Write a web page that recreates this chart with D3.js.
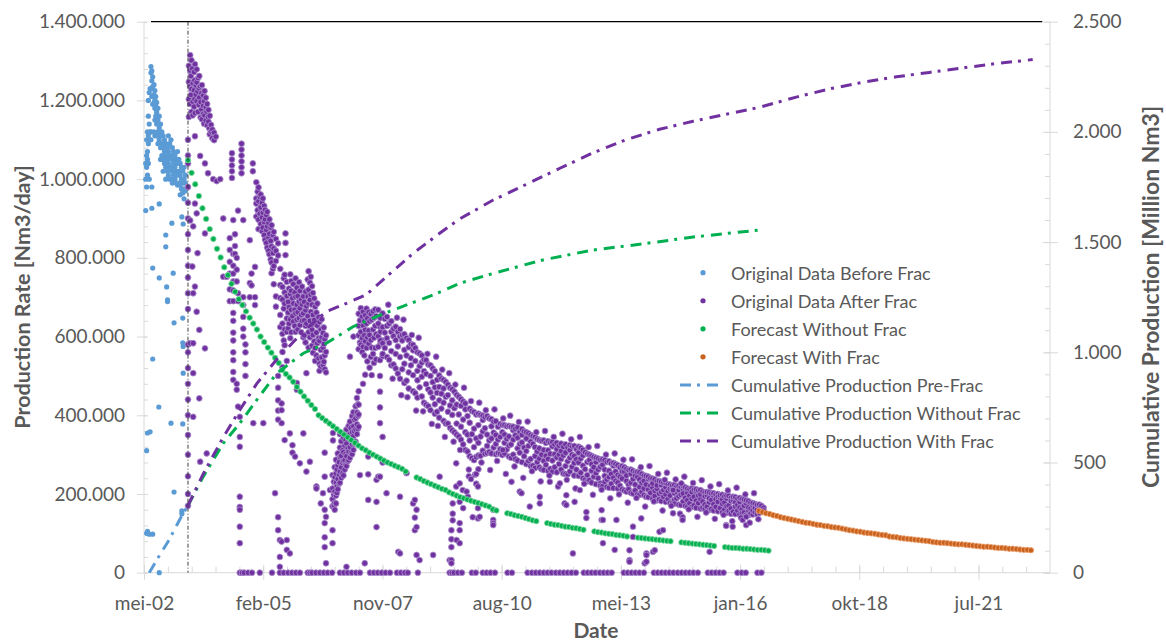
<!DOCTYPE html>
<html>
<head>
<meta charset="utf-8">
<script src="https://cdn.jsdelivr.net/npm/d3@7"></script>
<style>
  body { margin: 0; background: #fff; }
  text { font-family: Lato, "Open Sans", sans-serif; }
</style>
</head>
<body>
<svg id="chart" width="1166" height="644"></svg>
<script>
// dates are decimal years, rates in 1000 Nm3/day, cumulative in million Nm3
const xStart = 2002.37;
const xTickLabels = ["mei-02", "feb-05", "nov-07", "aug-10", "mei-13", "jan-16", "okt-18", "jul-21"];
const leftTicks = [0, 200, 400, 600, 800, 1000, 1200, 1400];
const rightTicks = [0, 500, 1000, 1500, 2000, 2500];
const fracDate = 2003.38;

const seriesNames = ["Original Data Before Frac", "Original Data After Frac", "Forecast Without Frac",
  "Forecast With Frac", "Cumulative Production Pre-Frac", "Cumulative Production Without Frac",
  "Cumulative Production With Frac"];

// [date, readings...]
const beforeFrac = [
  [2002.41, 1040, 1000, 920], [2002.43, 1100, 1060, 1030, 980, 310, 100],
  [2002.45, 1120, 1070, 1050, 1010, 355, 105], [2002.47, 1200, 1160, 1110, 1090, 1040],
  [2002.49, 1220, 1140, 1100, 1000, 98], [2002.51, 1230, 1120, 358],
  [2002.53, 1286, 1270, 1120, 1100], [2002.55, 1275, 1250, 1230, 1210, 980, 926],
  [2002.57, 1260, 1235, 1210, 1190, 774, 543, 98], [2002.60, 1240, 1215, 1195, 1120],
  [2002.62, 1225, 1200, 1180, 1150, 1110], [2002.64, 1210, 1185, 1160, 1115],
  [2002.66, 1195, 1170, 1140, 1110], [2002.69, 1180, 1150, 1120, 1090], [2002.71, 421],
  [2002.72, 1160, 1130, 1100, 937, 749, 0], [2002.75, 1140, 1110, 1080, 1050],
  [2002.78, 1120, 1090, 1060], [2002.81, 1110, 1080, 1050, 1020], [2002.84, 1100, 1070, 1040],
  [2002.87, 1090, 1060, 1030, 1000, 858, 828], [2002.89, 726], [2002.91, 1080, 1050, 1020, 693, 689],
  [2002.93, 1110, 1070, 1040, 1010], [2002.96, 1090, 1060, 1030, 1000],
  [2002.99, 1100, 1060, 1030, 1000, 380], [2003.01, 888], [2003.02, 1080, 1050, 1020, 990],
  [2003.04, 761], [2003.05, 1070, 1040, 1010], [2003.06, 635, 205], [2003.08, 1060, 1030, 1000],
  [2003.11, 1050, 1020, 990], [2003.14, 1070, 1040, 1010, 985], [2003.17, 1050, 1020, 990],
  [2003.20, 1040, 1010, 985, 960], [2003.23, 1030, 1000, 975], [2003.24, 904, 157, 150],
  [2003.26, 1020, 990, 965, 647, 584, 378], [2003.27, 886, 575, 507],
  [2003.29, 1030, 1000, 975, 950], [2003.32, 1010, 990, 970]
];

const afterFracEarly = [
  [2003.38, 1100, 1060, 1040, 980, 940, 900, 860, 820, 780, 750, 710, 670, 580, 560, 520, 480, 440, 400, 350, 300, 245, 200, 170],
  [2003.40, 1288, 1247, 1203, 1158], [2003.43, 1315, 1276, 1236, 1191, 895, 583],
  [2003.45, 1262, 1214], [2003.46, 1302, 1229, 1171], [2003.48, 1281, 778], [2003.49, 1244, 1197, 1162],
  [2003.50, 880, 710, 583, 507, 396], [2003.52, 1272, 1226, 1184], [2003.53, 1251, 1203],
  [2003.54, 1292, 1168, 1109, 938, 727], [2003.56, 1238, 1215], [2003.58, 1279, 1246, 1198, 913, 663],
  [2003.60, 1223, 812], [2003.61, 1257, 1171], [2003.63, 1231, 1189], [2003.64, 1262, 1207, 617, 443],
  [2003.66, 1236, 1059, 282], [2003.67, 1196, 1157], [2003.69, 1218, 1177], [2003.70, 1239, 1152],
  [2003.73, 1213, 1186, 1166], [2003.75, 1198, 1141], [2003.76, 1224, 1162], [2003.77, 1040, 862, 570],
  [2003.79, 1207, 1183, 1149], [2003.81, 1172, 303], [2003.82, 1191, 1137], [2003.84, 1158, 1015],
  [2003.85, 1176, 1146], [2003.87, 1129], [2003.88, 1161, 1114], [2003.91, 1138, 1121], [2003.94, 1126, 1104],
  [2003.96, 1000], [2003.98, 1118, 1099], [2004.02, 1108], [2004.04, 995], [2004.12, 1000]
];

const afterFrac2004 = [
  [2004.19, 900, 752], [2004.27, 752], [2004.34, 850, 820, 790, 760, 720, 690],
  [2004.39, 1066, 1050, 1035, 1020, 1003],
  [2004.42, 896, 810, 780, 760, 740, 717, 690, 660, 640, 610, 590, 560, 540, 510, 490],
  [2004.46, 860, 830, 810], [2004.50, 800, 770, 740, 480, 465], [2004.53, 920, 710, 690, 422],
  [2004.57, 396, 345, 320, 193, 167, 160, 117, 75], [2004.61, 1090, 1075, 1060, 1045, 1030, 1015],
  [2004.65, 896, 700, 680, 650, 620, 600], [2004.70, 580, 560, 530, 500],
  [2004.80, 845, 736, 700], [2004.84, 760, 730], [2004.87, 1040, 1020], [2004.88, 380],
  [2004.92, 777, 700, 680], [2004.95, 992, 951, 938, 905], [2004.98, 968, 921],
  [2005.00, 979, 944, 897, 873], [2005.03, 955, 912], [2005.05, 961, 928, 886],
  [2005.08, 940, 903, 868], [2005.10, 951, 915, 877], [2005.11, 380], [2005.13, 932, 891, 858],
  [2005.15, 922, 898, 846], [2005.18, 909, 871, 838], [2005.20, 917, 880, 826],
  [2005.23, 889, 852, 818], [2005.25, 898, 861, 809], [2005.28, 877, 843, 796],
  [2005.30, 883, 829, 788, 761], [2005.33, 858, 812, 772], [2005.35, 866, 824, 779, 733],
  [2005.38, 202], [2005.40, 848, 818, 792, 702, 676],
  [2005.45, 837, 806, 500, 470, 438, 412, 389, 141, 108], [2005.49, 83, 40, 15]
];

const afterFracHump = [
  [2005.50, 772, 731, 698, 655, 624], [2005.53, 430, 413, 380, 79],
  [2005.55, 726, 694, 633, 607, 561, 522], [2005.58, 748, 671, 590],
  [2005.60, 757, 712, 684, 618, 578, 337], [2005.62, 862, 838, 807],
  [2005.65, 739, 703, 646, 612, 538, 83, 58], [2005.68, 688, 661, 621], [2005.70, 722, 675, 633],
  [2005.72, 354, 49], [2005.73, 758, 708, 644, 596], [2005.75, 741, 716, 668, 611],
  [2005.78, 697, 652, 324, 305], [2005.80, 733, 684, 638], [2005.83, 712, 668, 627],
  [2005.84, 295], [2005.85, 748, 701, 659, 612], [2005.88, 724, 681, 643, 482, 465],
  [2005.90, 703, 662, 618], [2005.93, 738, 689, 647], [2005.95, 716, 672, 629, 278],
  [2005.98, 694, 655, 611], [2006.00, 727, 682, 640], [2006.03, 702, 659, 598, 354],
  [2006.05, 688, 641, 603], [2006.08, 714, 667, 627, 585], [2006.10, 677, 633, 507, 257],
  [2006.13, 745, 702, 652], [2006.15, 766, 719, 684, 611, 572], [2006.18, 737, 693, 640, 598, 282],
  [2006.20, 752, 707, 663, 626], [2006.23, 728, 681, 617, 577], [2006.25, 711, 655, 604, 559],
  [2006.28, 697, 642, 588], [2006.30, 676, 633, 571, 538], [2006.33, 661, 610, 552, 219, 214],
  [2006.35, 684, 628, 583], [2006.38, 649, 596, 545], [2006.40, 637, 589, 531, 513],
  [2006.43, 618, 566, 524, 176], [2006.45, 644, 598, 547], [2006.48, 609, 572, 528, 202],
  [2006.50, 623, 581, 536], [2006.52, 594, 552, 517, 305, 244, 160, 126, 90, 65],
  [2006.55, 603, 561, 509, 142, 24], [2006.64, 210]
];

const afterFracDip = [
  [2006.70, 248, 214, 187, 169, 108, 75], [2006.71, 355, 336], [2006.73, 231, 198, 172],
  [2006.75, 268, 243, 206, 178, 160], [2006.78, 287, 252, 229, 196, 176], [2006.80, 262, 219, 203],
  [2006.82, 303, 273, 238, 212], [2006.85, 281, 249, 226], [2006.87, 352, 318, 294, 257, 229],
  [2006.90, 334, 297, 268, 241], [2006.93, 311, 279, 253], [2006.95, 343, 306, 284, 247],
  [2006.98, 353, 323, 286, 262], [2007.00, 337, 301, 274], [2007.02, 364, 328, 296, 271, 15],
  [2007.05, 349, 316, 283], [2007.07, 373, 341, 307, 286], [2007.10, 549, 384, 352, 319, 292],
  [2007.12, 368, 337, 304], [2007.15, 398, 357, 326, 301], [2007.18, 600, 408, 372, 347, 312],
  [2007.20, 389, 359, 328], [2007.23, 423, 392, 364, 333], [2007.26, 444, 407, 377, 352],
  [2007.28, 428, 398, 366], [2007.30, 658, 627, 603, 568, 461, 427, 402, 371], [2007.33, 641, 585, 248],
  [2007.35, 672, 612, 579], [2007.38, 651, 596, 561], [2007.40, 663, 628, 574, 480],
  [2007.43, 639, 603, 552], [2007.44, 24], [2007.45, 654, 617, 588, 503], [2007.48, 671, 633, 571],
  [2007.50, 646, 598, 537], [2007.52, 295, 250, 185], [2007.53, 662, 615, 582],
  [2007.55, 639, 604, 521], [2007.58, 657, 591, 548], [2007.60, 643, 572, 502],
  [2007.63, 664, 618, 556], [2007.65, 648, 597, 533], [2007.68, 669, 627, 571],
  [2007.70, 652, 606, 542], [2007.71, 236, 180, 116], [2007.75, 244],
  [2007.79, 625, 580, 540, 500, 460, 420, 380, 244], [2007.85, 590, 550, 345, 280], [2007.94, 202]
];

const afterFracBand = [
  [2007.75, 601, 668, 574, 633], [2007.80, 647, 590, 612], [2007.85, 556, 624, 659, 583],
  [2007.90, 610, 571, 645], [2007.95, 650, 548, 596, 627], [2008.00, 584, 633, 541],
  [2008.05, 563, 612, 639, 527], [2008.10, 601, 529, 620], [2008.15, 625, 556, 519, 591],
  [2008.20, 575, 612, 506], [2008.25, 548, 601, 493, 619], [2008.30, 590, 517, 604],
  [2008.35, 606, 531, 566, 482], [2008.40, 552, 488, 596], [2008.45, 509, 591, 573, 468],
  [2008.50, 581, 527, 545], [2008.55, 461, 565, 502, 579], [2008.60, 538, 571, 456],
  [2008.65, 513, 560, 445, 489], [2008.70, 557, 471, 525], [2008.75, 448, 534, 552, 498],
  [2008.80, 512, 432, 541], [2008.85, 540, 479, 427, 505], [2008.90, 466, 529, 423],
  [2008.95, 500, 413, 527, 458], [2009.00, 519, 445, 484], [2009.05, 428, 512, 471, 404],
  [2009.10, 490, 409, 457], [2009.15, 501, 438, 472, 394], [2009.20, 417, 493, 455],
  [2009.25, 468, 386, 490, 432], [2009.30, 447, 485, 379], [2009.35, 409, 478, 379, 451],
  [2009.40, 470, 425, 368], [2009.45, 362, 438, 466, 401], [2009.50, 418, 357, 460],
  [2009.55, 452, 379, 427, 351], [2009.60, 346, 402, 447], [2009.65, 424, 338, 441, 371],
  [2009.70, 389, 435, 326], [2009.75, 312, 415, 357, 430], [2009.80, 398, 308, 351],
  [2009.85, 417, 336, 296, 381], [2009.90, 352, 411, 291], [2009.95, 408, 319, 366, 286],
  [2010.00, 294, 402, 341], [2010.05, 375, 298, 404, 330], [2010.10, 401, 346, 297],
  [2010.15, 310, 388, 359, 399], [2010.20, 367, 302, 395], [2010.25, 398, 322, 351, 304],
  [2010.30, 336, 392, 307], [2010.35, 303, 372, 390, 341], [2010.40, 384, 318, 356],
  [2010.45, 350, 301, 385, 327], [2010.50, 371, 338, 304], [2010.55, 314, 378, 345, 302],
  [2010.60, 357, 299, 375], [2010.65, 375, 330, 303, 351], [2010.70, 313, 372, 340],
  [2010.75, 346, 295, 373, 323], [2010.80, 371, 326, 292], [2010.85, 300, 362, 338, 371],
  [2010.90, 349, 289, 366], [2010.95, 369, 316, 285, 343], [2011.00, 305, 358, 327],
  [2011.05, 365, 331, 281, 350], [2011.10, 296, 359, 318], [2011.15, 341, 276, 357, 309],
  [2011.20, 354, 322, 284], [2011.25, 289, 350, 333, 271], [2011.30, 327, 347, 272],
  [2011.35, 345, 296, 266, 319], [2011.40, 308, 340, 281], [2011.45, 268, 337, 316, 290],
  [2011.50, 335, 300, 263], [2011.55, 312, 261, 336, 284], [2011.60, 274, 330, 297],
  [2011.65, 334, 289, 259, 311], [2011.70, 302, 331, 264], [2011.75, 257, 321, 285, 332],
  [2011.80, 326, 268, 301], [2011.85, 293, 330, 255, 314], [2011.90, 276, 323, 300],
  [2011.95, 328, 262, 309, 289], [2012.00, 298, 252, 320], [2012.05, 271, 326, 305, 251],
  [2012.10, 318, 283, 250], [2012.15, 257, 312, 324, 292], [2012.20, 321, 269, 300],
  [2012.25, 296, 247, 322, 279], [2012.30, 314, 262, 288], [2012.35, 246, 305, 280, 320],
  [2012.40, 317, 254, 290], [2012.45, 272, 312, 240, 298], [2012.50, 306, 263, 236],
  [2012.55, 248, 302, 281, 232], [2012.60, 286, 235, 300], [2012.65, 297, 259, 229, 276],
  [2012.70, 244, 294, 268], [2012.75, 281, 225, 292, 253], [2012.80, 290, 240, 262],
  [2012.85, 227, 287, 269, 221], [2012.90, 274, 220, 288], [2012.95, 286, 246, 231, 262],
  [2013.00, 237, 281, 218], [2013.05, 283, 259, 216, 243], [2013.10, 251, 278, 226],
  [2013.15, 215, 272, 241, 279], [2013.20, 276, 233, 257], [2013.25, 248, 214, 273, 229],
  [2013.30, 268, 221, 244], [2013.35, 212, 271, 239, 257], [2013.40, 257, 209, 268],
  [2013.45, 264, 233, 206, 247], [2013.50, 224, 261, 212], [2013.55, 251, 203, 262, 229],
  [2013.60, 259, 238, 201], [2013.65, 209, 255, 224, 246], [2013.70, 243, 199, 256],
  [2013.75, 255, 218, 237, 198], [2013.80, 205, 251, 229], [2013.85, 247, 197, 233, 214],
  [2013.90, 224, 246, 193], [2013.95, 192, 238, 211, 244], [2014.00, 240, 203, 221],
  [2014.05, 216, 188, 239, 227], [2014.10, 195, 237, 208], [2014.15, 232, 213, 184, 222],
  [2014.20, 201, 233, 186], [2014.25, 223, 182, 231, 205], [2014.30, 210, 229, 193],
  [2014.35, 180, 217, 228, 199], [2014.40, 225, 187, 207], [2014.45, 196, 224, 178, 213],
  [2014.50, 214, 177, 222], [2014.55, 223, 202, 185, 175], [2014.60, 189, 219, 206],
  [2014.65, 210, 173, 221, 194], [2014.70, 218, 198, 172], [2014.75, 181, 213, 220, 201],
  [2014.80, 217, 190, 170], [2014.85, 203, 168, 214, 184], [2014.90, 176, 212, 196],
  [2014.95, 214, 188, 167, 205], [2015.00, 193, 211, 171], [2015.05, 165, 207, 183, 212],
  [2015.10, 209, 177, 196], [2015.15, 187, 163, 210, 199], [2015.20, 206, 181, 165],
  [2015.25, 173, 204, 194, 161], [2015.30, 197, 168, 205], [2015.35, 204, 179, 159, 189],
  [2015.40, 185, 201, 162], [2015.45, 158, 196, 174, 202], [2015.50, 199, 167, 187],
  [2015.55, 180, 156, 200, 193], [2015.60, 191, 164, 197], [2015.65, 198, 175, 154, 186],
  [2015.70, 160, 194, 178], [2015.75, 189, 152, 196, 169], [2015.80, 195, 171, 157],
  [2015.85, 163, 190, 182, 150], [2015.90, 184, 155, 193], [2015.95, 192, 168, 149, 179],
  [2016.00, 158, 188, 172], [2016.05, 180, 148, 190, 165], [2016.10, 187, 161, 151],
  [2016.15, 153, 183, 170, 186], [2016.20, 176, 147, 184], [2016.25, 182, 159, 166, 146],
  [2016.30, 150, 178, 163], [2016.35, 171, 177, 148, 158], [2016.40, 175, 154, 164],
  [2016.45, 149, 172, 160], [2016.50, 168, 152, 173], [2016.55, 157, 170], [2016.60, 165, 158]
];

// readings just outside the main band
const afterFracNearBand = [
  [2007.98, 681], [2008.08, 493], [2008.18, 648], [2008.28, 451], [2008.33, 643], [2008.42, 446],
  [2008.52, 604], [2008.62, 412], [2008.68, 597], [2008.78, 410], [2008.88, 556], [2008.98, 378],
  [2009.08, 549], [2009.12, 373], [2009.22, 516], [2009.28, 345], [2009.38, 507], [2009.48, 333],
  [2009.52, 478], [2009.63, 312], [2009.72, 470], [2009.83, 262, 245], [2009.88, 436, 238],
  [2009.97, 249], [2010.00, 251, 226], [2010.05, 263], [2010.07, 432], [2010.12, 280],
  [2010.22, 413], [2010.32, 261], [2010.42, 415], [2010.48, 284], [2010.62, 392], [2010.68, 251],
  [2010.78, 399], [2010.88, 270], [2010.98, 383], [2011.08, 241], [2011.18, 384], [2011.28, 258],
  [2011.38, 357], [2011.48, 232], [2011.58, 360], [2011.68, 247], [2011.78, 345], [2011.88, 219],
  [2011.98, 353], [2012.08, 236], [2012.18, 339], [2012.28, 214], [2012.38, 345], [2012.48, 226],
  [2012.58, 319], [2012.68, 198], [2012.78, 322], [2012.88, 211], [2012.98, 300], [2013.08, 189],
  [2013.18, 303], [2013.28, 199], [2013.38, 287], [2013.48, 178], [2013.58, 288], [2013.68, 190],
  [2013.78, 268], [2013.88, 168], [2013.98, 271], [2014.08, 181], [2014.18, 251], [2014.28, 158],
  [2014.38, 254], [2014.48, 170], [2014.58, 237], [2014.68, 150], [2014.78, 244], [2014.88, 161],
  [2014.98, 228], [2015.08, 142], [2015.18, 235], [2015.28, 153], [2015.38, 219], [2015.48, 137],
  [2015.58, 225], [2015.68, 147], [2015.78, 209], [2015.88, 131], [2015.98, 216], [2016.08, 140],
  [2016.18, 199], [2016.38, 202], [2016.48, 136]
];

const afterFracLow = [
  [2008.21, 53], [2008.25, 193, 49], [2008.40, 253], [2008.55, 176], [2008.59, 185, 140, 108],
  [2008.63, 160, 116, 45], [2008.70, 32], [2009.01, 45], [2009.16, 244], [2009.39, 32],
  [2009.43, 108, 85, 65, 32, 24], [2009.46, 176, 150, 133], [2009.54, 278, 219], [2009.55, 83],
  [2009.62, 227, 180, 126, 108, 75], [2009.69, 210], [2009.70, 164], [2009.78, 206], [2009.81, 193],
  [2009.92, 141], [2010.04, 219, 164, 138], [2010.08, 142], [2010.39, 160, 134, 126, 121],
  [2010.61, 312], [2010.81, 231], [2011.00, 206], [2011.04, 202], [2011.23, 168], [2011.46, 193, 176],
  [2011.69, 231], [2011.92, 227], [2012.03, 176], [2012.07, 197, 172], [2012.22, 49], [2012.26, 180],
  [2012.38, 210], [2012.53, 154, 139], [2012.88, 159, 134], [2012.91, 134, 75], [2013.18, 58],
  [2013.22, 134], [2013.52, 57, 32, 28], [2013.60, 117, 91], [2013.79, 138], [2013.87, 24],
  [2013.91, 49, 45, 28], [2014.06, 53], [2014.10, 57], [2014.21, 104], [2014.29, 108], [2014.33, 236],
  [2014.52, 210, 151], [2014.71, 227], [2014.74, 141, 134], [2015.36, 53], [2015.74, 121, 119],
  [2015.89, 117], [2016.12, 134], [2016.20, 142, 121], [2016.28, 127]
];

// dates where the after-frac rate reads 0
const afterFracZeroDates = [
  2004.57, 2004.62, 2004.67, 2004.76, 2004.85, 2005.03, 2005.31, 2005.49, 2005.58, 2005.68, 2005.77,
  2005.86, 2005.95, 2006.13, 2006.18, 2006.23, 2006.32, 2006.41, 2006.50, 2006.59, 2006.69, 2006.87,
  2006.96, 2007.05, 2007.14, 2007.24, 2007.33, 2007.56, 2007.65, 2007.74, 2007.83, 2007.92, 2008.02,
  2008.18, 2008.27, 2008.36, 2008.43, 2008.66, 2009.39, 2009.44, 2009.49, 2009.58, 2009.67, 2009.90,
  2009.99, 2010.15, 2010.24, 2010.33, 2010.43, 2010.72, 2010.82, 2011.18, 2011.28, 2011.37, 2011.46,
  2011.55, 2011.64, 2011.73, 2011.83, 2011.92, 2012.01, 2012.10, 2012.19, 2012.29, 2012.47, 2012.56,
  2012.65, 2012.74, 2012.84, 2012.93, 2013.02, 2013.11, 2013.39, 2013.48, 2013.57, 2013.66, 2013.75,
  2013.85, 2014.08, 2014.17, 2014.26, 2014.35, 2014.44, 2014.53, 2014.63, 2014.72, 2014.81, 2014.90,
  2014.99, 2015.09, 2015.32, 2015.41, 2015.50, 2015.59, 2015.68, 2016.00, 2016.10, 2016.19, 2016.46,
  2016.55
];

// monthly forecasts
const forecastWithoutStart = 2003.38;
const forecastWithout = [
  1048, 1016, 987, 957, 926, 899, 873, 848, 823, 801, 776, 756,
  734, 714, 695, 680, 664, 648, 633, 618, 600, 586, 572, 559,
  546, 533, 515, 505, 496, 485, 472, 460, 448, 437, 426, 416,
  400, 393, 386, 379, 372, 365, 358, 351, 344, 337, 330, 323,
  316, 311, 305, 300, 295, 290, 285, 280, 276, 272, 268, 264,
  257, null, null, 242, 238, 233, 229, 225, 221, 217, 213, 210,
  204, 200, 196, 192, 189, 186, 183, 180, 177, 174, 171, 168,
  161, 158, null, null, 151, 149, 146, 144, 142, 139, 136, 133,
  131, null, null, 126, 124, 122, 121, 119, 117, 116, 114, 113,
  111, 109, null, null, 105, 103, 102, 100, 99, 98, 96, 95,
  94, 92, null, null, 89, 88, 87, 86, 85, 84, 83, 82,
  81, 80, null, null, 77, 76, 75, 74, 73, 72, 71, 70,
  69, 68, null, null, 65, 64, 63, 63, 62, 61, 61, 60,
  59, 58, 58, 57, 56
];
const forecastWithStart = 2016.49;
const forecastWith = [
  157, 154, 151, 149, 146, 144, 141, 139, 137, 135, 133, 131,
  129, 127, 126, 124, 122, 121, 119, 118, 116, 115, 114, 112,
  110, 108, 107, 105, 104, 102, 101, 100, 99, 97, 96, 95,
  92, 91, 90, 88, 87, 86, 85, 84, 83, 82, 81, 80,
  78, 77, 76, 76, 75, 74, 73, 72, 72, 71, 70, 69,
  68, 67, 66, 66, 65, 64, 63, 63, 62, 61, 61, 60,
  59, 58, 58, 57
];

// cumulative production [date, million Nm3]
const cumPreFrac = [[2002.49, 0], [2002.70, 70], [2002.95, 150], [2003.20, 245], [2003.38, 305]];
const cumWithoutFrac = [
  [2003.38, 305], [2003.73, 436], [2004.19, 587], [2004.57, 678], [2004.96, 784], [2005.42, 905],
  [2006.03, 996], [2006.56, 1041], [2007.17, 1116], [2007.79, 1169], [2008.40, 1215], [2009.01, 1260],
  [2009.62, 1313], [2010.39, 1358], [2011.53, 1419], [2012.68, 1464], [2013.83, 1492], [2014.98, 1523],
  [2016.51, 1555], [2016.62, 1556]
];
const cumWithFrac = [
  [2003.38, 305], [2003.73, 448], [2004.19, 615], [2004.57, 738], [2004.96, 858], [2005.42, 968],
  [2006.03, 1095], [2006.56, 1185], [2007.02, 1222], [2007.48, 1262], [2007.94, 1343], [2008.55, 1449],
  [2009.16, 1540], [2009.62, 1605], [2010.39, 1691], [2011.15, 1762], [2011.92, 1835], [2012.68, 1905],
  [2013.45, 1965], [2014.21, 2012], [2014.98, 2048], [2015.74, 2080], [2016.51, 2112], [2017.35, 2158],
  [2018.11, 2195], [2018.88, 2225], [2019.65, 2250], [2020.41, 2270], [2021.17, 2290], [2021.94, 2310],
  [2022.78, 2328]
];
const topLine = [[2002.53, 1400], [2023.00, 1400]];

const colors = { blue: "#5B9BD5", purple: "#7030A0", green: "#00B050", orange: "#C9611C" };
const textGray = "#595959";
const axisGray = "#d9d9d9";

const svg = d3.select("#chart");
const plotL = 144, plotR = 1050, plotT = 21.7, plotB = 572.7;

const x = d3.scaleLinear().domain([xStart, xStart + 7600 / 365.25]).range([plotL, plotR]);
const yL = d3.scaleLinear().domain([0, 1400]).range([plotB, plotT]);
const yR = d3.scaleLinear().domain([0, 2500]).range([plotB, plotT]);

const nl = d3.formatLocale({ decimal: ",", thousands: ".", grouping: [3], currency: ["€", ""] });
const fmt = nl.format(",");

const xTicks = xTickLabels.map((d, i) => xStart + i * 1000 / 365.25);
const xMinor = d3.range(0, 38).map(i => xStart + i * 200 / 365.25);

function styleAxis(g) {
  g.select(".domain").remove();
  g.selectAll("line").attr("stroke", axisGray).attr("stroke-width", 1);
  g.selectAll("text").attr("fill", textGray).style("font-size", "19px");
}

// axis lines
svg.append("line").attr("x1", plotL).attr("x2", plotL).attr("y1", plotT).attr("y2", plotB).attr("stroke", axisGray);
svg.append("line").attr("x1", plotR).attr("x2", plotR).attr("y1", plotT).attr("y2", plotB).attr("stroke", axisGray);
svg.append("line").attr("x1", plotL).attr("x2", plotR).attr("y1", plotB).attr("y2", plotB).attr("stroke", axisGray);

// left axis
svg.append("g").attr("transform", `translate(${plotL},0)`)
  .call(d3.axisLeft(yL).tickValues(d3.range(0, 1401, 40)).tickSize(-4).tickFormat(""))
  .call(styleAxis);
svg.append("g").attr("transform", `translate(${plotL},0)`)
  .call(d3.axisLeft(yL).tickValues(leftTicks).tickSize(7).tickPadding(12).tickFormat(d => fmt(d * 1000)))
  .call(styleAxis)
  .call(g => g.selectAll(".tick line").attr("x1", 3));

// right axis
svg.append("g").attr("transform", `translate(${plotR},0)`)
  .call(d3.axisRight(yR).tickValues(d3.range(0, 2501, 100)).tickSize(-5).tickFormat(""))
  .call(styleAxis);
svg.append("g").attr("transform", `translate(${plotR},0)`)
  .call(d3.axisRight(yR).tickValues(rightTicks).tickSize(8).tickPadding(15).tickFormat(fmt))
  .call(styleAxis)
  .call(g => g.selectAll(".tick line").attr("x1", -7));

// bottom axis
svg.append("g").attr("transform", `translate(0,${plotB})`)
  .call(d3.axisBottom(x).tickValues(xMinor.filter(d => d <= x.domain()[1])).tickSize(-6).tickFormat(""))
  .call(styleAxis);
svg.append("g").attr("transform", `translate(0,${plotB})`)
  .call(d3.axisBottom(x).tickValues(xTicks).tickSize(7).tickPadding(17).tickFormat((d, i) => xTickLabels[i]))
  .call(styleAxis)
  .call(g => g.selectAll(".tick line").attr("y1", -8));

// axis titles
svg.append("text").attr("transform", "translate(22,297) rotate(-90)")
  .attr("text-anchor", "middle").attr("dominant-baseline", "central")
  .attr("fill", textGray).style("font-size", "21.5px").style("font-weight", "bold")
  .text("Production Rate [Nm3/day]");
svg.append("text").attr("transform", "translate(1150,297) rotate(-90)")
  .attr("text-anchor", "middle").attr("dominant-baseline", "central")
  .attr("fill", textGray).style("font-size", "23px").style("font-weight", "bold")
  .text("Cumulative Production [Million Nm3]");
svg.append("text").attr("x", 596).attr("y", 638).attr("text-anchor", "middle")
  .attr("fill", textGray).style("font-size", "21px").style("font-weight", "bold")
  .text("Date");

const flat = cols => cols.flatMap(c => c.slice(1).map(v => [c[0], v]));

function scatter(data, fill, stroke, r) {
  svg.append("g").selectAll("circle").data(data).join("circle")
    .attr("cx", d => x(d[0])).attr("cy", d => yL(d[1])).attr("r", r)
    .attr("fill", fill).attr("stroke", stroke).attr("stroke-width", stroke === "none" ? 0 : 0.9);
}

scatter(flat(beforeFrac), colors.blue, "none", 2.6);

const afterFrac = [].concat(
  flat(afterFracEarly), flat(afterFrac2004), flat(afterFracHump), flat(afterFracDip),
  flat(afterFracBand), flat(afterFracNearBand), flat(afterFracLow), afterFracZeroDates.map(d => [d, 0])
);
scatter(afterFrac, colors.purple, "#a98ccb", 2.9);

const withoutPts = forecastWithout.map((v, i) => [forecastWithoutStart + i / 12, v]).filter(d => d[1] !== null);
scatter(withoutPts, colors.green, "#7fd6a0", 2.7);
const withPts = forecastWith.map((v, i) => [forecastWithStart + i / 12, v]);
scatter(withPts, colors.orange, "#eba06e", 2.7);

// cumulative lines on the right axis
const cumLine = d3.line().x(d => x(d[0])).y(d => yR(d[1]));
const dash = "11,6,3,7";
[[cumPreFrac, colors.blue], [cumWithoutFrac, colors.green], [cumWithFrac, colors.purple]].forEach(([data, c]) => {
  svg.append("path").datum(data).attr("d", cumLine)
    .attr("fill", "none").attr("stroke", c).attr("stroke-width", 3).attr("stroke-dasharray", dash);
});

// frac date marker and top line
svg.append("line").attr("x1", x(fracDate)).attr("x2", x(fracDate)).attr("y1", yL(1400)).attr("y2", yL(0))
  .attr("stroke", "#404040").attr("stroke-width", 1).attr("stroke-dasharray", "4,2,1,2");
svg.append("path").datum(topLine).attr("d", d3.line().x(d => x(d[0])).y(d => yL(d[1])))
  .attr("stroke", "#000").attr("stroke-width", 1.3);

// legend
const legend = svg.append("g");
const legendColors = [colors.blue, colors.purple, colors.green, colors.orange, colors.blue, colors.green, colors.purple];
seriesNames.forEach((name, i) => {
  const cy = 272.7 + i * 28.05;
  const row = legend.append("g");
  if (i < 4) {
    row.append("circle").attr("cx", 703).attr("cy", cy).attr("r", 2.6).attr("fill", legendColors[i]);
  } else {
    row.append("line").attr("x1", 680).attr("x2", 718).attr("y1", cy).attr("y2", cy)
      .attr("stroke", legendColors[i]).attr("stroke-width", 3).attr("stroke-dasharray", dash);
  }
  row.append("text").attr("x", 731).attr("y", cy).attr("dominant-baseline", "central")
    .attr("fill", textGray).style("font-size", "18px").text(name);
});
</script>
</body>
</html>
